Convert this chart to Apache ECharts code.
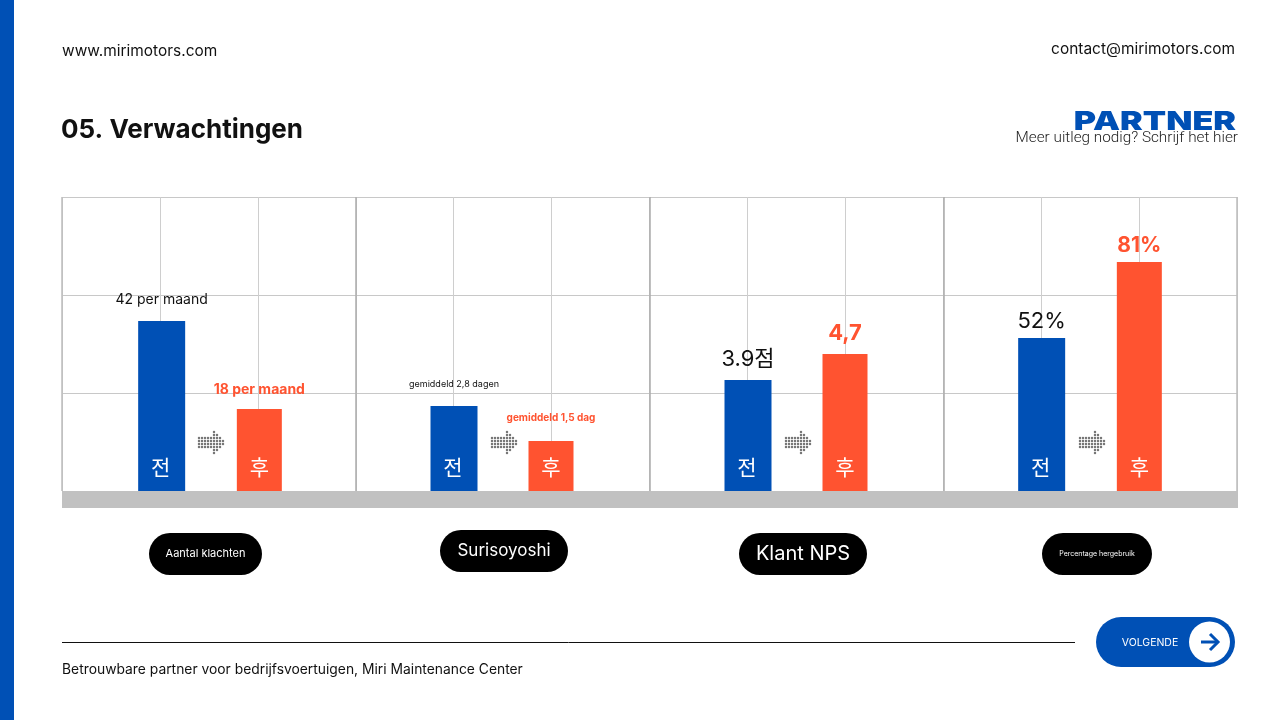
<!DOCTYPE html>
<html><head><meta charset="utf-8">
<style>html,body{margin:0;padding:0;background:#fff}#c{width:1280px;height:720px}</style>
<script src="https://cdn.jsdelivr.net/npm/echarts@6/dist/echarts.min.js"></script>
</head><body><div id="c"></div>
<script>
// ---- data ----
const stages = ['전', '후'];
const panelNames = ['Aantal klachten', 'Surisoyoshi', 'Klant NPS', 'Percentage hergebruik'];
const beforeValues = [42, 2.8, 3.9, 52];
const afterValues = [18, 1.5, 4.7, 81];
const beforeLabels = ['42 per maand', 'gemiddeld 2,8 dagen', '3.9점', '52%'];
const afterLabels = ['18 per maand', 'gemiddeld 1,5 dag', '4,7', '81%'];

// ---- per-panel hidden scales and styling ----
const axisMin = [-4.36, -0.36, 0.485, -6.4];
const axisMax = [75.8, 10.57, 9.53, 105.8];
const panelLeft = [62, 355, 649, 942];
const panelWidth = [296, 294, 294, 296];
const beforeFont = [14, 9, 22, 22];
const afterFont = [14, 10, 22, 21];
const beforeDist = [14, 17, 10, 6];
const afterDist = [12, 18, 10, 6];
const BLUE = '#0050b5', ORANGE = '#ff5330', FONT = 'Inter, "Noto Sans CJK KR", sans-serif';
const TOP = 197, BASE = 491;

const grid = [{left: 62, width: 1175, top: TOP, height: BASE - TOP}];
const xAxis = [
  {gridIndex: 0, type: 'value', position: 'bottom', min: 0, max: 12, interval: 1, axisLabel: {show: false}, axisTick: {show: false}, axisLine: {show: false},
   splitLine: {show: true, lineStyle: {color: '#cecece', width: 1}}},
  {gridIndex: 0, type: 'value', position: 'top', min: 0, max: 12, interval: 3, axisLabel: {show: false}, axisTick: {show: false}, axisLine: {show: false},
   splitLine: {show: true, lineStyle: {color: ['#bcbcbc', '#ababab', '#ababab', '#ababab', '#bcbcbc'], width: 1.5}}}
];
const yAxis = [{gridIndex: 0, type: 'value', min: 0, max: 3, interval: 1, axisLabel: {show: false}, axisTick: {show: false}, axisLine: {show: false},
  splitLine: {show: true, lineStyle: {color: '#c8c8c8', width: 1}}}];
const series = [];

panelNames.forEach((name, i) => {
  const g = grid.length;
  grid.push({left: panelLeft[i], width: panelWidth[i], top: TOP, height: BASE - TOP});
  const cats = ['', stages[0], stages[1], ''];
  xAxis.push({gridIndex: g, type: 'category', position: 'top', data: cats, boundaryGap: false, axisLine: {show: false, onZero: false}, axisTick: {show: false}, axisLabel: {show: false}, splitLine: {show: false}});
  // stage captions sit on a copy of the axis raised above the bars
  xAxis.push({gridIndex: g, type: 'category', position: 'bottom', data: cats, boundaryGap: false, z: 6, axisLine: {show: false, onZero: false}, axisTick: {show: false}, splitLine: {show: false},
    axisLabel: {show: true, inside: true, interval: 0, margin: 12, color: '#fff', fontSize: 21, fontFamily: FONT}});
  yAxis.push({gridIndex: g, type: 'value', min: axisMin[i], max: axisMax[i], startValue: axisMin[i], show: false, splitLine: {show: false}});
  const xIdx = xAxis.length - 2, yIdx = yAxis.length - 1;
  series.push({name: name + ' ' + stages[0], type: 'bar', xAxisIndex: xIdx, yAxisIndex: yIdx, barWidth: 47, barGap: '-100%', z: 3,
    itemStyle: {color: BLUE},
    label: {show: true, position: 'top', distance: beforeDist[i], formatter: () => beforeLabels[i], color: '#111', fontSize: beforeFont[i], fontFamily: FONT},
    data: [null, beforeValues[i], null, null]});
  series.push({name: name + ' ' + stages[1], type: 'bar', xAxisIndex: xIdx, yAxisIndex: yIdx, barWidth: 45, barGap: '-100%', z: 3,
    itemStyle: {color: ORANGE},
    label: {show: true, position: 'top', distance: afterDist[i], formatter: () => afterLabels[i], color: ORANGE, fontWeight: 700, fontSize: afterFont[i], fontFamily: FONT},
    data: [null, null, afterValues[i], null]});
});

// ---- slide furniture ----
function text(str, x, y, size, opt = {}) {
  return {type: 'text', x, y, scaleX: opt.sx || 1, z: opt.z || 5,
    style: {text: str, x: 0, y: 0, fill: opt.color || '#111', font: (opt.weight || 400) + ' ' + size + 'px ' + (opt.family || FONT),
      textAlign: opt.align || 'left', textVerticalAlign: 'middle'}};
}
const pills = [[149, 533, 113, 42, 11], [440, 530, 128, 42, 17], [739, 533, 128, 42, 20], [1042, 533, 110, 42, 7]];
const arrowX = [198, 491, 785, 1079];
const arrowRows = [[5], [5, 6], [0,1,2,3,4,5,6,7], [0,1,2,3,4,5,6,7,8], [0,1,2,3,4,5,6,7,8], [0,1,2,3,4,5,6,7], [5, 6], [5]];

const gfx = [
  {type: 'rect', shape: {x: 0, y: 0, width: 14, height: 720}, style: {fill: BLUE}},
  {type: 'rect', shape: {x: 62, y: BASE, width: 1176, height: 17}, style: {fill: '#c1c1c1'}, z: 1},
  text('www.mirimotors.com', 62, 51.5, 15, {sx: 1.03}),
  text('contact@mirimotors.com', 1235, 49.5, 15, {align: 'right', sx: 1.03}),
  text('05. Verwachtingen', 61, 130, 26, {weight: 700}),
  text('PARTNER', 1236, 122, 26, {weight: 900, color: BLUE, align: 'right', family: 'Inter, sans-serif', sx: 1.31}),
  text('Meer uitleg nodig? Schrijf het hier', 1238, 138, 15.3, {align: 'right', weight: 300, family: 'Roboto, sans-serif', color: '#222'}),
  {type: 'line', shape: {x1: 62, y1: 642.5, x2: 1075, y2: 642.5}, style: {stroke: '#111', lineWidth: 1}},
  text('Betrouwbare partner voor bedrijfsvoertuigen, Miri Maintenance Center', 62, 670, 13.85),
  {type: 'rect', shape: {x: 1096, y: 617, width: 139, height: 50, r: 25}, style: {fill: BLUE}},
  {type: 'circle', shape: {cx: 1209.5, cy: 642, r: 20.5}, style: {fill: '#fff'}, z: 2},
  {type: 'polyline', shape: {points: [[1201, 642], [1218, 642]]}, style: {stroke: BLUE, lineWidth: 3, fill: null}, z: 3},
  {type: 'polyline', shape: {points: [[1210, 634], [1218, 642], [1210, 650]]}, style: {stroke: BLUE, lineWidth: 3, fill: null}, z: 3},
  text('VOLGENDE', 1150, 642.5, 10.5, {color: '#fff', align: 'center'})
];
pills.forEach((p, i) => {
  gfx.push({type: 'rect', shape: {x: p[0], y: p[1], width: p[2], height: p[3], r: 21}, style: {fill: '#000'}});
  gfx.push(text(panelNames[i], p[0] + p[2] / 2, p[1] + p[3] / 2, p[4], {color: '#fff', align: 'center'}));
});
arrowX.forEach(ax => {
  arrowRows.forEach((cols, r) => cols.forEach(c => {
    gfx.push({type: 'circle', shape: {cx: ax + 1 + c * 3, cy: 432 + r * 3, r: 1.25}, style: {fill: '#777'}, z: 2});
  }));
});

const chart = echarts.init(document.getElementById('c'), null, {renderer: 'canvas'});
chart.setOption({animation: false, backgroundColor: '#fff', grid, xAxis, yAxis, series, graphic: {elements: gfx}});
</script></body></html>
